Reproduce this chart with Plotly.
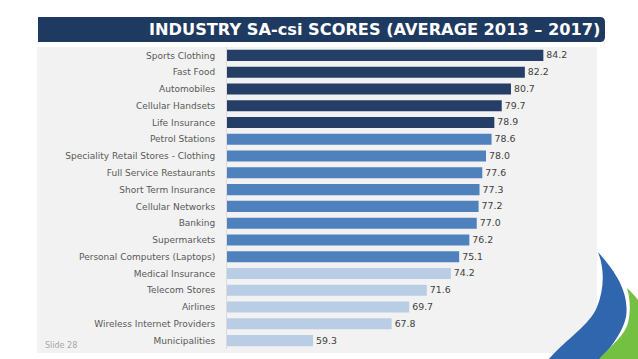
import plotly.graph_objects as go

categories = [
    "Sports Clothing", "Fast Food", "Automobiles", "Cellular Handsets", "Life Insurance",
    "Petrol Stations", "Speciality Retail Stores - Clothing", "Full Service Restaurants",
    "Short Term Insurance", "Cellular Networks", "Banking", "Supermarkets",
    "Personal Computers (Laptops)", "Medical Insurance", "Telecom Stores", "Airlines",
    "Wireless Internet Providers", "Municipalities",
]
scores = [84.2, 82.2, 80.7, 79.7, 78.9, 78.6, 78.0, 77.6, 77.3, 77.2, 77.0, 76.2,
          75.1, 74.2, 71.6, 69.7, 67.8, 59.3]
tiers = ["top"] * 5 + ["mid"] * 8 + ["low"] * 5
tier_colors = {"top": "#243e66", "mid": "#4f81bd", "low": "#b9cde5"}
title_text = "INDUSTRY SA-csi SCORES (AVERAGE 2013 \u2013 2017)"
slide_text = "Slide 28"

W, H = 638, 359
L, R, T, B = 227, 41, 47, 10
PW, PH = W - L - R, H - T - B


def px(x):
    return (x - L) / PW


def py(y):
    return (H - B - y) / PH


def path(points_cmds):
    out = []
    for cmd, pts in points_cmds:
        s = cmd
        s += " ".join(f"{px(x):.4f},{py(y):.4f}" for x, y in pts)
        out.append(s)
    return " ".join(out) + " Z"


fig = go.Figure()
fig.add_trace(go.Bar(
    x=scores, y=categories, orientation="h",
    marker=dict(color=[tier_colors[t] for t in tiers], line=dict(width=0)),
    text=scores, texttemplate="%{x:.1f}", textposition="outside",
    textfont=dict(family="DejaVu Sans", size=11, color="#404040"),
    cliponaxis=False, hoverinfo="skip",
))

shapes = [
    # grey panel
    dict(type="rect", xref="paper", yref="paper", x0=px(37), x1=px(597), y0=py(353), y1=py(47),
         fillcolor="#f2f2f2", line=dict(width=0), layer="below"),
    # title banner with rounded right corners
    dict(type="path", xref="paper", yref="paper", fillcolor="#1f3a60", line=dict(width=0),
         path=path([("M", [(38, 17)]), ("L", [(600, 17)]), ("Q", [(605, 17), (605, 22)]),
                    ("L", [(605, 37)]), ("Q", [(605, 42), (600, 42)]), ("L", [(38, 42)])])),
    # blue swoosh
    dict(type="path", xref="paper", yref="paper", fillcolor="#2f66ad", line=dict(width=0),
         path=path([("M", [(598, 252)]), ("C", [(612, 268), (630, 290), (626, 317)]),
                    ("C", [(622, 335), (608, 350), (600, 360)]), ("L", [(548, 360)]),
                    ("C", [(565, 340), (590, 325), (597, 307)]),
                    ("C", [(604, 290), (605, 270), (598, 252)])])),
    # green swoosh
    dict(type="path", xref="paper", yref="paper", fillcolor="#74c043", line=dict(width=0),
         path=path([("M", [(627, 288)]), ("C", [(640, 300), (645, 310), (648, 320)]),
                    ("L", [(648, 360)]), ("L", [(598, 360)]),
                    ("C", [(612, 345), (625, 335), (628, 323)]),
                    ("C", [(631, 310), (630, 298), (627, 288)])])),
]

annotations = [
    dict(text=title_text, xref="paper", yref="paper", x=px(602), y=py(29.5),
         xanchor="right", yanchor="middle", showarrow=False,
         font=dict(family="DejaVu Sans", size=16.2, color="white", weight="bold")),
    dict(text=slide_text, xref="paper", yref="paper", x=px(43), y=py(345),
         xanchor="left", yanchor="middle", showarrow=False,
         font=dict(family="DejaVu Sans", size=8, color="#a6a6a6")),
]

fig.update_layout(
    width=W, height=H, margin=dict(l=L, r=R, t=T, b=B, pad=0),
    paper_bgcolor="white", plot_bgcolor="rgba(0,0,0,0)",
    showlegend=False, bargap=0.34,
    shapes=shapes, annotations=annotations,
    xaxis=dict(range=[50, 90], visible=False, fixedrange=True),
    yaxis=dict(autorange="reversed", showgrid=False, showline=True, linecolor="#dcdcdc",
               linewidth=1, ticks="", ticklabelstandoff=9,
               tickfont=dict(family="DejaVu Sans", size=9, color="#595959")),
)

fig.write_html(
    "out.html",
    config={"displayModeBar": False},
    post_script="document.body.style.margin='0px';document.body.style.overflow='hidden';",
)
